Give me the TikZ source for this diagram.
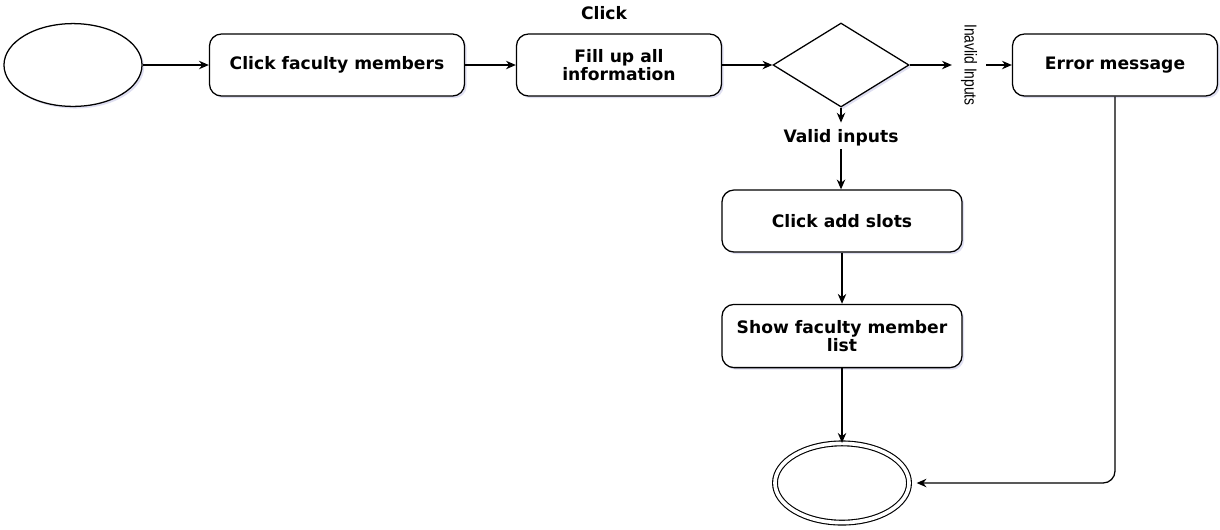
\documentclass[tikz,border=0pt]{standalone}
\usepackage{fontspec}
\setmainfont{DejaVu Sans}
\newfontfamily\labelfont{Liberation Sans}
\usetikzlibrary{shapes.geometric,arrows.meta,shadows}
\begin{document}
\begin{tikzpicture}[x=0.025cm,y=-0.025cm,
  font=\fontsize{12.2}{12.5}\selectfont\bfseries,
  softshadow/.style={drop shadow={shadow xshift=1.5pt,shadow yshift=-1.5pt,opacity=0.18,fill=blue!40!gray}},
  stepbox/.style={draw,rounded corners=0.3cm,line width=0.9pt,fill=white,align=center,softshadow},
  flow/.style={draw,line width=0.9pt,-{Stealth[length=7pt,width=6pt]}},
  lbl/.style={inner sep=2pt}]
  \useasboundingbox (0,0) rectangle (1220,529);

  % start and end states
  \node[ellipse,draw,line width=0.9pt,fill=white,softshadow,minimum width=3.45cm,minimum height=2.07cm] (start) at (73,65) {};
  \node[ellipse,draw,line width=0.8pt,double,double distance=2.6pt,fill=white,softshadow,minimum width=3.35cm,minimum height=1.98cm] (stop) at (842,483) {};

  % process steps
  \node[stepbox,minimum width=6.375cm,minimum height=1.55cm] (faculty) at (337,65) {Click faculty members};
  \node[stepbox,minimum width=5.125cm,minimum height=1.55cm] (fill) at (619,65) {Fill up all\\information};
  \node[diamond,draw,line width=0.9pt,fill=white,softshadow,minimum width=3.4cm,minimum height=2.1cm,inner sep=0pt] (check) at (841,65) {};
  \node[stepbox,minimum width=5.125cm,minimum height=1.55cm] (error) at (1115,65) {Error message};
  \node[stepbox,minimum width=6cm,minimum height=1.55cm] (slots) at (842,221) {Click add slots};
  \node[stepbox,minimum width=6cm,minimum height=1.58cm] (list) at (842,336) {Show faculty member\\list};

  % labels
  \node[lbl] (click) at (604,13) {Click};
  \node[lbl] (valid) at (841,138) {Valid inputs};
  \node[lbl,rotate=-90,font=\labelfont\fontsize{12.3}{14}\selectfont] (invalid) at (969,65) {\scalebox{0.8}[1]{Inavlid Inputs}};

  % connectors
  \draw[flow] (start.east) -- (faculty.west);
  \draw[flow] (faculty.east) -- (fill.west);
  \draw[flow] (fill.east) -- (check.west);
  \draw[flow] (check.east) -- ([xshift=-0.15cm]invalid.south);
  \draw[flow] ([xshift=0.15cm]invalid.north) -- (error.west);
  \draw[flow] (check.south) -- ([yshift=0.1cm]valid.north);
  \draw[flow] (valid.south) -- (slots.north -| valid.south);
  \draw[flow] (slots.south) -- (list.north);
  \draw[flow,line width=1.1pt] (list.south) -- (stop.north);
  \draw[flow,rounded corners=0.3cm,shorten >=5pt] (error.south) |- (stop.east);
\end{tikzpicture}
\end{document}
